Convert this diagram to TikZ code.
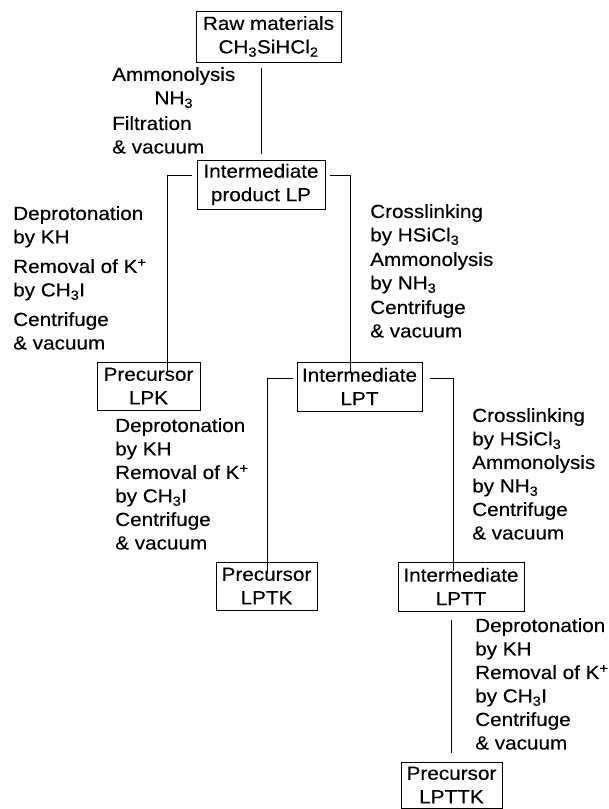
\documentclass[tikz,border=0pt]{standalone}
\usepackage{fontspec}
\setmainfont{Liberation Sans}[FakeStretch=1.09,FakeBold=0.25]
\begin{document}
\begin{tikzpicture}[x=1pt,y=1pt,yscale=-1,xscale=1,
  font=\fontsize{19}{23.5}\selectfont,
  stage/.style={draw, line width=0.7pt, align=center, inner sep=0pt},
  cond/.style={anchor=north west, align=left, inner sep=0pt},
  link/.style={line width=0.6pt}]
\path[use as bounding box, fill=white] (0,0) rectangle (609,809);

% Boxes
\node[stage, minimum width=145pt, minimum height=51pt] (raw) at (268.5,36.5) {Raw materials\\CH\textsubscript{3}SiHCl\textsubscript{2}};
\node[stage, minimum width=128pt, minimum height=49pt] (lp) at (261,184.5) {Intermediate\\product LP};
\node[stage, minimum width=103pt, minimum height=48pt] (lpk) at (148.5,386) {Precursor\\LPK};
\node[stage, minimum width=125pt, minimum height=49pt] (lpt) at (359.5,386.5) {Intermediate\\LPT};
\node[stage, minimum width=101pt, minimum height=48pt] (lptk) at (266.5,586) {Precursor\\LPTK};
\node[stage, minimum width=126pt, minimum height=49pt] (lptt) at (461,586.5) {Intermediate\\LPTT};
\node[stage, minimum width=101pt, minimum height=46pt] (lpttk) at (451.5,785) {Precursor\\LPTTK};

% Connectors
\draw[link, shorten <=6pt, shorten >=6pt] (raw.south -| lp.north) -- (lp.north);
\draw[link] ([xshift=-5pt,yshift=-9.5pt]lp.west) -| ([xshift=18.5pt,yshift=9pt]lpk.north);
\draw[link] ([xshift=5pt,yshift=-9.5pt]lp.east) -| ([xshift=-9.5pt,yshift=10pt]lpt.north);
\draw[link] ([xshift=-4pt,yshift=-8.5pt]lpt.west) -| ([xshift=0.5pt,yshift=12pt]lptk.north);
\draw[link] ([xshift=8pt,yshift=-8.5pt]lpt.east) -| ([xshift=-8pt,yshift=9pt]lptt.north);
\draw[link, shorten <=9pt, shorten >=9pt] (lptt.south -| lpttk.north) -- (lpttk.north);

% Step conditions
\node[cond, align=center] (ammon) at (112,67) {Ammonolysis\\NH\textsubscript{3}};
\node[cond] (filtr) at (112,116) {Filtration\\\& vacuum};
\node[cond] (steplpk) at (13,206) {Deprotonation\\by KH\\[6pt]Removal of K\textsuperscript{+}\\by CH\textsubscript{3}I\\[6pt]Centrifuge\\\& vacuum};
\node[cond] (steplpt) at (370,204) {Crosslinking\\by HSiCl\textsubscript{3}\\[1pt]Ammonolysis\\by NH\textsubscript{3}\\[1pt]Centrifuge\\\& vacuum};
\node[cond] (steplptk) at (115,418) {Deprotonation\\by KH\\Removal of K\textsuperscript{+}\\by CH\textsubscript{3}I\\Centrifuge\\\& vacuum};
\node[cond] (steplptt) at (472,408) {Crosslinking\\by HSiCl\textsubscript{3}\\Ammonolysis\\by NH\textsubscript{3}\\Centrifuge\\\& vacuum};
\node[cond] (steplpttk) at (475,618) {Deprotonation\\by KH\\Removal of K\textsuperscript{+}\\by CH\textsubscript{3}I\\Centrifuge\\\& vacuum};

\end{tikzpicture}
\end{document}
